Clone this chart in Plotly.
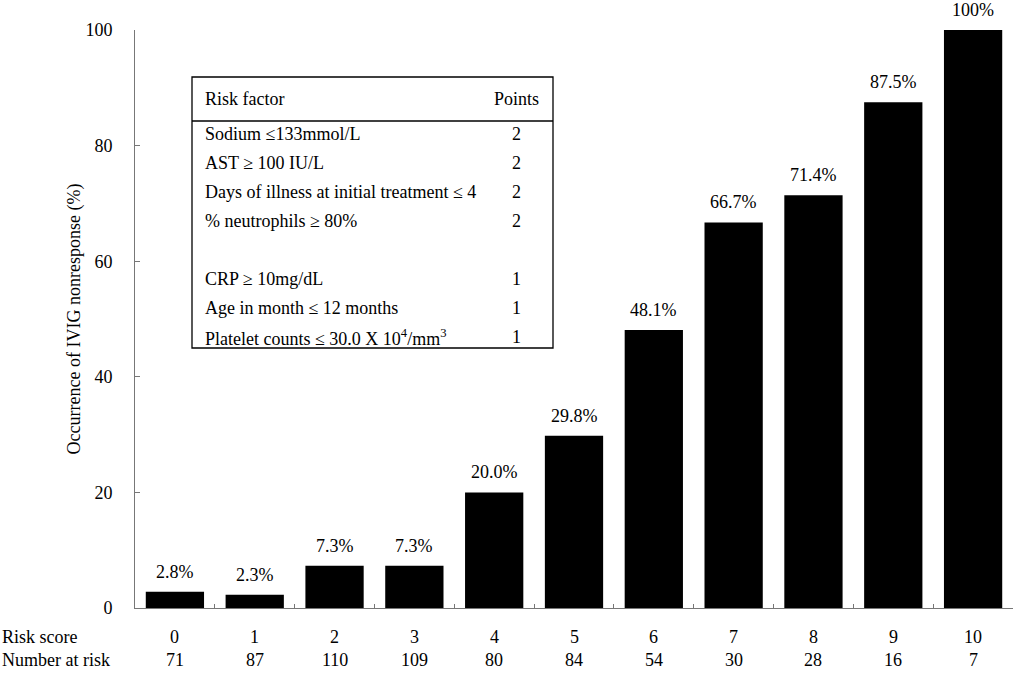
import plotly.graph_objects as go

risk_scores = ["0", "1", "2", "3", "4", "5", "6", "7", "8", "9", "10"]
nonresponse_pct = [2.8, 2.3, 7.3, 7.3, 20.0, 29.8, 48.1, 66.7, 71.4, 87.5, 100.0]
bar_labels = ["2.8%", "2.3%", "7.3%", "7.3%", "20.0%", "29.8%", "48.1%", "66.7%", "71.4%", "87.5%", "100%"]
number_at_risk = [71, 87, 110, 109, 80, 84, 54, 30, 28, 16, 7]

table_factors = ["Sodium ≤133mmol/L", "AST ≥ 100 IU/L", "Days of illness at initial treatment ≤ 4",
                 "% neutrophils ≥ 80%", "", "CRP ≥ 10mg/dL", "Age in month ≤ 12 months",
                 "Platelet counts ≤ 30.0 X 10<sup>4</sup>/mm<sup>3</sup>"]
table_points = ["2", "2", "2", "2", "", "1", "1", "1"]

FONT = "Liberation Serif, Times New Roman, serif"
FS = 18
W, H = 1019, 674
ML, MR, MT, MB = 135, 6, 30, 66


def px_x(px):
    return (px - ML) / (W - ML - MR)


def px_y(py):
    return 1 - (py - MT) / (H - MT - MB)


tfont = dict(family=FONT, size=FS, color="black")

fig = go.Figure(go.Bar(
    x=risk_scores, y=nonresponse_pct,
    marker=dict(color="black", line=dict(width=0)),
    hoverinfo="x+y",
))

annotations = []
# value labels above bars
for cat, v, lab in zip(risk_scores, nonresponse_pct, bar_labels):
    annotations.append(dict(text=lab, x=cat, y=v, xref="x", yref="y", yanchor="bottom",
                            yshift=8, showarrow=False, font=tfont))

# bottom rows
annotations.append(dict(text="Risk score", x=px_x(0), y=px_y(637), xref="paper", yref="paper",
                        xanchor="left", yanchor="middle", showarrow=False, font=tfont))
annotations.append(dict(text="Number at risk", x=px_x(0), y=px_y(660), xref="paper", yref="paper",
                        xanchor="left", yanchor="middle", showarrow=False, font=tfont))
for cat, n in zip(risk_scores, number_at_risk):
    annotations.append(dict(text=cat, x=cat, xref="x", y=px_y(637), yref="paper",
                            yanchor="middle", showarrow=False, font=tfont))
    annotations.append(dict(text=str(n), x=cat, xref="x", y=px_y(660), yref="paper",
                            yanchor="middle", showarrow=False, font=tfont))

# table inset
box_l, box_r, box_t, box_b, sep = 192, 553, 77, 348, 121
shapes = [
    dict(type="rect", xref="paper", yref="paper", x0=px_x(box_l), x1=px_x(box_r),
         y0=px_y(box_b), y1=px_y(box_t), line=dict(color="black", width=1.3), fillcolor="white"),
    dict(type="line", xref="paper", yref="paper", x0=px_x(box_l), x1=px_x(box_r),
         y0=px_y(sep), y1=px_y(sep), line=dict(color="black", width=1.3)),
]
annotations.append(dict(text="Risk factor", x=px_x(203), y=px_y(99), xref="paper", yref="paper",
                        xanchor="left", yanchor="middle", showarrow=False, font=tfont))
annotations.append(dict(text="Points", x=px_x(516), y=px_y(99), xref="paper", yref="paper",
                        xanchor="center", yanchor="middle", showarrow=False, font=tfont))
row_y = [134, 163, 192, 221, 250, 279, 308, 337]
for f, p, ry in zip(table_factors, table_points, row_y):
    if f:
        annotations.append(dict(text=f, x=px_x(203), y=px_y(ry), xref="paper", yref="paper",
                                xanchor="left", yanchor="middle", showarrow=False, font=tfont))
    if p:
        annotations.append(dict(text=p, x=px_x(516), y=px_y(ry), xref="paper", yref="paper",
                                xanchor="center", yanchor="middle", showarrow=False, font=tfont))

fig.update_layout(
    width=W, height=H,
    margin=dict(l=ML, r=MR, t=MT, b=MB, autoexpand=False),
    plot_bgcolor="white", paper_bgcolor="white",
    bargap=0.27, showlegend=False,
    font=tfont,
    annotations=annotations, shapes=shapes,
    xaxis=dict(type="category", showline=True, linecolor="#777", linewidth=1,
               ticks="inside", ticklen=4, tickcolor="#777", tickson="boundaries",
               showgrid=False, showticklabels=False),
    yaxis=dict(range=[0, 100], tickvals=[0, 20, 40, 60, 80, 100], showline=True,
               linecolor="#777", linewidth=1, ticks="inside", ticklen=5, tickcolor="#777",
               showgrid=False, zeroline=False, ticklabelstandoff=18,
               tickfont=tfont,
               title=dict(text="Occurrence of IVIG nonresponse (%)", standoff=0, font=tfont)),
)

fig.write_html("out.html", config={"displayModeBar": False},
               post_script="document.body.style.margin='0';")
